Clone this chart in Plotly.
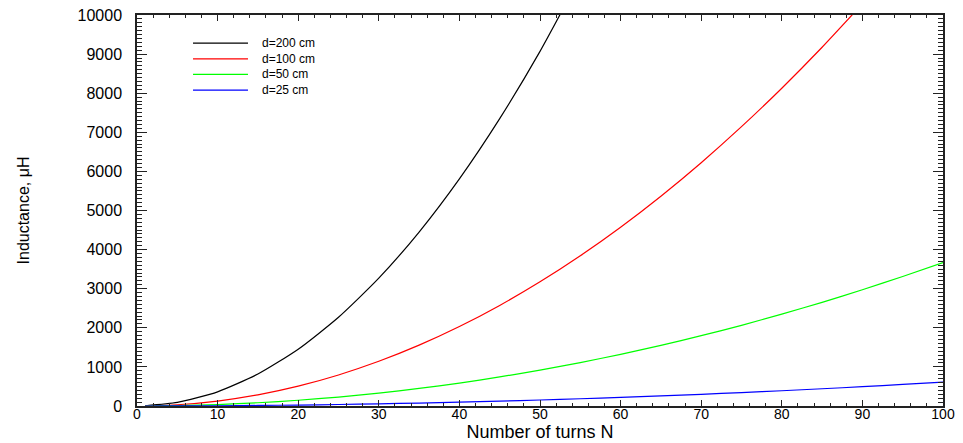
import plotly.graph_objects as go

# Number of turns N
N = [1, 5, 10, 15, 20, 25, 30, 35, 40, 45, 50, 55, 60, 65, 70, 75, 80, 85, 90, 95, 100]

# Inductance in microhenry
L_d200 = [4, 91, 363, 817, 1452, 2270, 3270, 4450, 5810, 7350, 9070, 10980]
L_d100 = [1, 32, 127, 286, 508, 794, 1143, 1556, 2032, 2572, 3175, 3842, 4572,
          5366, 6223, 7144, 8128, 9176, 10287]
L_d50 = [0, 9, 37, 83, 147, 229, 330, 450, 587, 743, 918, 1110, 1321, 1551,
         1798, 2064, 2349, 2652, 2973, 3312, 3670]
L_d25 = [0, 2, 6, 14, 24, 38, 55, 75, 98, 124, 153, 185, 220, 258, 299, 343,
         390, 441, 494, 551, 612]

names = ["d=200 cm", "d=100 cm", "d=50 cm", "d=25 cm"]
values = [L_d200, L_d100, L_d50, L_d25]
colors = ["#000000", "#ff0000", "#00ff00", "#0000ff"]

FONT = "Liberation Sans, Arial, Helvetica, sans-serif"

fig = go.Figure()
for name, vals, color in zip(names, values, colors):
    fig.add_trace(go.Scatter(
        x=N[:len(vals)], y=vals, name=name, mode="lines",
        line=dict(color=color, width=1.2, shape="spline", smoothing=0.6),
        showlegend=False,
    ))

# legend drawn inside the plot (top-left), paper coordinates
leg_x0, leg_x1, leg_tx = 0.0695, 0.1377, 0.153
leg_y = [0.928, 0.888, 0.848, 0.808]
for name, color, yy in zip(names, colors, leg_y):
    fig.add_shape(type="line", xref="paper", yref="paper",
                  x0=leg_x0, x1=leg_x1, y0=yy, y1=yy,
                  line=dict(color=color, width=1.2))
    fig.add_annotation(xref="paper", yref="paper", x=leg_tx, y=yy,
                       text=name, showarrow=False, xanchor="left", yanchor="middle",
                       font=dict(family=FONT, size=12, color="#000000"))

axis_common = dict(
    showgrid=False, zeroline=False, showline=True, linecolor="#222222",
    linewidth=1.5, mirror="ticks", ticks="inside", tickcolor="#222222",
    tickwidth=1.2, tickformat="d",
)

fig.update_xaxes(
    range=[0, 100], dtick=10, tick0=0, ticklen=6,
    minor=dict(dtick=2, ticks="inside", ticklen=3, tickcolor="#222222", tickwidth=1),
    ticklabelstandoff=-6,
    tickfont=dict(family=FONT, size=14, color="#000000"),
    title=dict(text="Number of turns N", font=dict(family=FONT, size=18, color="#000000"),
               standoff=0),
    **axis_common,
)
fig.update_yaxes(
    range=[0, 10000], dtick=1000, tick0=0, ticklen=10,
    minor=dict(dtick=100, ticks="inside", ticklen=5, tickcolor="#222222", tickwidth=1),
    ticklabelstandoff=10,
    tickfont=dict(family=FONT, size=16, color="#000000"),
    title=dict(text="Inductance, μH", font=dict(family=FONT, size=16, color="#000000"),
               standoff=44),
    **axis_common,
)

fig.update_layout(
    width=963, height=443,
    margin=dict(l=137, r=20, t=15, b=37, autoexpand=False),
    paper_bgcolor="white", plot_bgcolor="white",
    showlegend=False,
)

fig.write_html("out.html", config={"displayModeBar": False},
               post_script="document.body.style.margin='0px';")
